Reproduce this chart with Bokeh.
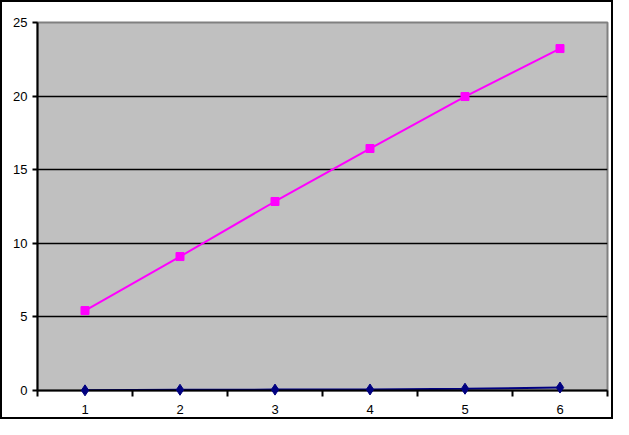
from bokeh.plotting import figure
from bokeh.models import Range1d, FixedTicker
from bokeh.layouts import column
from bokeh.embed import file_html
from bokeh.resources import INLINE

categories = [1, 2, 3, 4, 5, 6]
series_pink = [5.43, 9.1, 12.84, 16.44, 19.97, 23.23]
series_navy = [0.01, 0.05, 0.06, 0.07, 0.12, 0.2]
y_ticks = [0, 5, 10, 15, 20, 25]
x_boundaries = [0.5, 1.5, 2.5, 3.5, 4.5, 5.5, 6.5]

p = figure(frame_width=570, frame_height=368,
           output_backend="svg", toolbar_location=None,
           x_range=Range1d(0.5, 6.5), y_range=Range1d(0, 25),
           min_border_left=35, min_border_right=4, min_border_top=20, min_border_bottom=27)
p.border_fill_color = "white"
p.background_fill_color = "#C0C0C0"
p.outline_line_color = "#808080"
p.outline_line_width = 2

p.xgrid.grid_line_color = None
p.ygrid.ticker = FixedTicker(ticks=y_ticks)
p.ygrid.grid_line_color = "black"
p.ygrid.grid_line_width = 1.5

p.yaxis.ticker = FixedTicker(ticks=y_ticks)
p.xaxis.ticker = FixedTicker(ticks=categories, minor_ticks=x_boundaries)

for ax in (p.xaxis[0], p.yaxis[0]):
    ax.axis_line_color = "black"
    ax.axis_line_width = 2
    ax.major_label_text_font = "Liberation Sans"
    ax.major_label_text_font_size = "13px"
    ax.major_label_text_color = "black"

p.xaxis.major_tick_out = 0
p.xaxis.major_tick_in = 0
p.xaxis.minor_tick_out = 6
p.xaxis.minor_tick_in = 0
p.xaxis.minor_tick_line_color = "black"
p.xaxis.minor_tick_line_width = 2
p.xaxis.major_label_standoff = 8

p.yaxis.major_tick_out = 5
p.yaxis.major_tick_in = 0
p.yaxis.major_tick_line_color = "black"
p.yaxis.major_tick_line_width = 2
p.yaxis.minor_tick_line_color = None
p.yaxis.major_label_standoff = 5

p.line(categories, series_navy, line_color="#000080", line_width=2)
p.scatter(categories, series_navy, marker="diamond", size=11, fill_color="#000080",
          line_color="#000080", level="overlay")
p.line(categories, series_pink, line_color="#FF00FF", line_width=2)
p.scatter(categories, series_pink, marker="square", size=8, fill_color="#FF00FF",
          line_color="#FF00FF", level="overlay")

layout = column(p, styles={"border": "2px solid black"})

open("out.html", "w").write(file_html(layout, INLINE))
